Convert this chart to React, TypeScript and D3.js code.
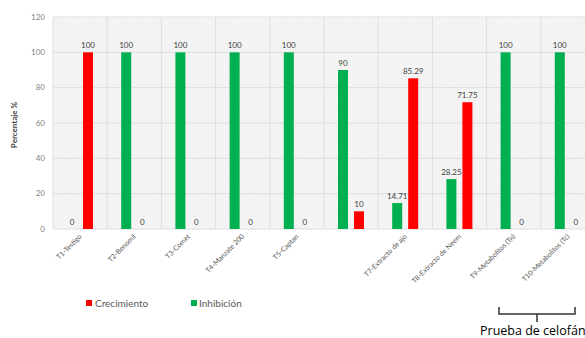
import React from "react";
import * as d3 from "d3";

const categories = [
  "T1-Testigo",
  "T2-Benomil",
  "T3-Comet",
  "T4-Manzate 200",
  "T5-Captan",
  "",
  "T7-Extracto de ajo",
  "T8-Extracto de Neem",
  "T9-Metabolitos (Tn)",
  "T10-Metabolitos (Tc)",
];
const inhibicion = [0, 100, 100, 100, 100, 90, 14.71, 28.25, 100, 100];
const crecimiento = [100, 0, 0, 0, 0, 10, 85.29, 71.75, 0, 0];
const yTicks = [0, 20, 40, 60, 80, 100, 120];

const W = 585;
const H = 338;
const left = 53;
const right = 595;
const top = 17;
const bottom = 229;

export default function App() {
  const x = d3.scaleBand<string>().domain(categories.map((_, i) => String(i))).range([left, right]);
  const y = d3.scaleLinear().domain([0, 120]).range([bottom, top]);
  const bw = x.bandwidth();
  const barW = 10;
  const fmt = (v: number) => String(v);
  const green = "#00b050";
  const red = "#ff0000";
  const font = "Lato, 'Open Sans', sans-serif";
  const series = [
    { vals: inhibicion, color: green, off: 14 },
    { vals: crecimiento, color: red, off: 30 },
  ];
  return (
    <svg width={W} height={H} style={{ position: "absolute", left: 0, top: 0, background: "#fff" }} fontFamily={font}>
      <defs>
        <pattern id="hatch" width="3" height="3" patternUnits="userSpaceOnUse" patternTransform="rotate(45)">
          <rect width="3" height="3" fill="#f5f5f5" />
          <line x1="0" y1="0" x2="0" y2="3" stroke="#ececec" strokeWidth="1" />
        </pattern>
      </defs>
      <rect x={left} y={top} width={right - left} height={bottom - top} fill="url(#hatch)" />
      {yTicks.map((t) => (
        <g key={t}>
          <line x1={left} x2={right} y1={y(t)} y2={y(t)} stroke="#dedede" strokeWidth={1} />
          <text x={left - 8} y={y(t)} dy="0.35em" textAnchor="end" fontSize={8} fill="#7f7f7f">
            {t}
          </text>
        </g>
      ))}
      {categories.map((_, i) => (
        <line key={i} x1={x(String(i))!} x2={x(String(i))!} y1={top} y2={bottom} stroke="#dedede" strokeWidth={1} />
      ))}
      {series.map((s, si) =>
        s.vals.map((v, i) => {
          const bx = x(String(i))! + s.off;
          return (
            <g key={`${si}-${i}`}>
              <rect x={bx} y={y(v)} width={barW} height={bottom - y(v)} fill={s.color} />
              <text x={bx + barW / 2} y={y(v) - 4} textAnchor="middle" fontSize={8} fill="#404040">
                {fmt(v)}
              </text>
            </g>
          );
        })
      )}
      {categories.map((c, i) => {
        const cx = x(String(i))! + bw / 2 + 2;
        return (
          <text key={c + i} transform={`translate(${cx},${bottom + 8}) rotate(-45)`} textAnchor="end" fontSize={7} fill="#595959">
            {c}
          </text>
        );
      })}
      <text transform={`translate(17,${(top + bottom) / 2 + 2}) rotate(-90)`} textAnchor="middle" fontSize={8} fontWeight="bold" fill="#404040">
        Percentaje %
      </text>
      <rect x={86} y={300} width={6} height={6} fill={red} />
      <text x={95} y={306.5} fontSize={10} fill="#595959">Crecimiento</text>
      <rect x={191} y={300} width={6} height={6} fill={green} />
      <text x={199} y={306.5} fontSize={10} fill="#595959">Inhibición</text>
      <path d="M499,307 L499,314 L575,314 L575,307 M537,314 L537,322" fill="none" stroke="#333" strokeWidth={1.5} />
      <text x={480} y={335} fontSize={12.5} fill="#000" fontFamily="'Open Sans', sans-serif">Prueba de celofán</text>
    </svg>
  );
}
